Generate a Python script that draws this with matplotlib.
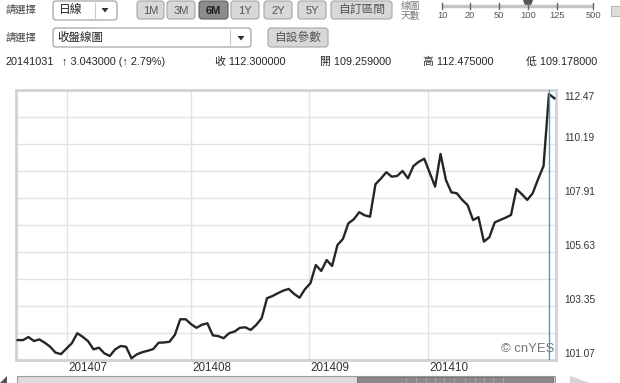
import numpy as np
import matplotlib.pyplot as plt
from matplotlib.patches import FancyBboxPatch, Rectangle, Polygon

plt.rcParams['font.family'] = ['Liberation Sans', 'Noto Sans CJK TC', 'DejaVu Sans']

# daily closing prices (one value per trading day, mid June -> start of Nov 2014)
close = [101.91, 101.91, 102.04, 101.87, 101.94, 101.80, 101.63, 101.38, 101.32, 101.55,
         101.78, 102.20, 102.05, 101.86, 101.52, 101.59, 101.35, 101.24, 101.52, 101.66,
         101.63, 101.14, 101.31, 101.40, 101.46, 101.53, 101.80, 101.81, 101.84, 102.13,
         102.79, 102.79, 102.58, 102.43, 102.56, 102.62, 102.11, 102.08, 101.99, 102.20,
         102.27, 102.43, 102.45, 102.34, 102.55, 102.83, 103.68, 103.77, 103.89, 104.00,
         104.07, 103.86, 103.70, 104.06, 104.31, 105.08, 104.83, 105.29, 105.04, 105.93,
         106.18, 106.84, 107.01, 107.31, 107.18, 107.12, 108.49, 108.73, 109.00, 108.81,
         108.84, 109.05, 108.74, 109.26, 109.44, 109.57, 108.98, 108.39, 109.77, 108.67,
         108.15, 108.11, 107.83, 107.61, 106.98, 107.10, 106.07, 106.25, 106.88, 106.98,
         107.08, 107.19, 108.29, 108.07, 107.83, 108.11, 108.71, 109.26, 112.30, 112.12]

month_labels = ['201407', '201408', '201409', '201410']
month_pos = [9.1, 32.0, 53.8, 75.7]          # index of first trading day of month
y_min, y_max = 101.07, 112.47
y_labels = [101.07, 103.35, 105.63, 107.91, 110.19, 112.47]
cursor_idx = 98                               # 20141031

quote_date = '20141031'
change, change_pct = 3.043, 2.79
q_close, q_open, q_high, q_low = 112.3, 109.259, 112.475, 109.178

periods = ['1M', '3M', '6M', '1Y', '2Y', '5Y', '自訂區間']
period_x = [(137, 164), (167, 195), (199, 228), (231, 259), (264, 292), (298, 326), (331, 392)]
active_period = '6M'
slider_labels = ['10', '20', '50', '100', '125', '500']
slider_x = [442, 470, 499, 528, 557, 593]

fig = plt.figure(figsize=(6.2, 3.83), dpi=100)

# page / widget layer in pixel coordinates
ui = fig.add_axes([0, 0, 1, 1], zorder=0)
ui.set_xlim(0, 620)
ui.set_ylim(383, 0)
ui.axis('off')

def box(x0, y0, x1, y1, fc, ec, r=3, lw=0.8):
    ui.add_patch(FancyBboxPatch((x0, y0), x1 - x0, y1 - y0,
                                boxstyle='round,pad=0,rounding_size=%d' % r,
                                fc=fc, ec=ec, lw=lw))

def arrow_down(x, y):
    ui.add_patch(Polygon([(x - 3.5, y - 2), (x + 3.5, y - 2), (x, y + 2.5)], fc='#333333', ec='none'))

# row 1
ui.text(6, 10, '請選擇', fontsize=7.4, color='#444444', va='center')
box(53, 1, 117, 20, 'white', '#9a9a9a')
ui.plot([95, 95], [3, 18], color='#c8c8c8', lw=0.8)
ui.text(59, 10, '日線', fontsize=8.5, color='#222222', va='center')
arrow_down(105, 10)

for lab, (x0, x1) in zip(periods, period_x):
    if lab == active_period:
        box(x0, 1, x1, 19, '#8c8c8c', '#5e5e5e')
        ui.text((x0 + x1) / 2, 10.5, lab, fontsize=8, color='#1e1e1e', ha='center', va='center', weight='bold')
    else:
        box(x0, 1, x1, 19, '#d8d8d8', '#a6a6a6')
        fs = 8.5 if len(lab) > 2 else 8
        ui.text((x0 + x1) / 2, 10.5, lab, fontsize=fs, color='#555555', ha='center', va='center')

ui.text(401, 5.5, '線圖', fontsize=7, color='#7a7a7a', va='center')
ui.text(401, 15.5, '天數', fontsize=7, color='#7a7a7a', va='center')
ui.plot([slider_x[0], slider_x[-1]], [6, 6], color='#c4c4c4', lw=2.5, solid_capstyle='butt')
for lab, sx in zip(slider_labels, slider_x):
    ui.plot([sx, sx], [2.5, 9], color='#666666', lw=1)
    ui.text(sx, 15.5, lab, fontsize=6.7, color='#555555', ha='center', va='center')
hx = slider_x[slider_labels.index('100')]
ui.add_patch(Polygon([(hx - 5, 0), (hx + 5, 0), (hx + 2.5, 7), (hx - 2.5, 7)], fc='#555555', ec='none'))
ui.add_patch(Rectangle((611, 6), 9, 10, fc='#dddddd', ec='#aaaaaa', lw=0.6))

# row 2
ui.text(6, 38, '請選擇', fontsize=7.4, color='#444444', va='center')
box(53, 28, 251, 47, 'white', '#9a9a9a')
ui.plot([230, 230], [30, 45], color='#c8c8c8', lw=0.8)
ui.text(57, 37.5, '收盤線圖', fontsize=8.3, color='#222222', va='center')
arrow_down(241, 38)
box(268, 28, 328, 47, '#d8d8d8', '#a6a6a6')
ui.text(298, 38, '自設參數', fontsize=8.5, color='#555555', ha='center', va='center')

# row 3: quote line
qc = '#262626'
ui.text(6, 62, quote_date, fontsize=7.8, color=qc, va='center')
ui.text(62, 62, '↑ %.6f (↑ %.2f%%)' % (change, change_pct), fontsize=7.8, color=qc, va='center')
ui.text(215, 62, '收 %.6f' % q_close, fontsize=7.8, color=qc, va='center')
ui.text(320, 62, '開 %.6f' % q_open, fontsize=7.8, color=qc, va='center')
ui.text(423, 62, '高 %.6f' % q_high, fontsize=7.8, color=qc, va='center')
ui.text(526, 62, '低 %.6f' % q_low, fontsize=7.8, color=qc, va='center')

# scrollbar under the chart
ui.add_patch(Rectangle((17, 376), 538, 9, fc='#dcdcdc', ec='#9c9c9c', lw=0.8))
ui.add_patch(Rectangle((357, 377), 196, 8, fc='#8a8a8a', ec='#6a6a6a', lw=0.6))
for gx in [406, 416, 426, 435, 444, 454, 465, 475, 484, 493, 503]:
    ui.plot([gx, gx], [378, 383], color='#a8a8a8', lw=0.6)
ui.add_patch(Polygon([(570, 376), (570, 383), (590, 383)], fc='#d4d4d4', ec='none'))
ui.add_patch(Polygon([(0, 383), (7, 376), (7, 383)], fc='#555555', ec='none'))

# chart
ax = fig.add_axes([16 / 620, 1 - 360 / 383, 540 / 620, 270 / 383], zorder=2)
ax.plot(range(len(close)), close, color='#262626', lw=1.7, zorder=3)
ax.axvline(cursor_idx, color='#3d9fd9', lw=1.0, zorder=4)
ax.set_xlim(-0.3, 99.3)
ax.set_ylim(y_min, y_max)
ax.set_yticks(np.linspace(y_min, y_max, 11))
ax.set_xticks(month_pos)
ax.grid(color='#e2e2e2', lw=1)
ax.tick_params(length=0, labelleft=False, labelbottom=False)
for s in ax.spines.values():
    s.set_color('#d2d2d2')
    s.set_linewidth(2)

for lab, p in zip(month_labels, month_pos):
    ax.annotate(lab, xy=(p, 0), xycoords=('data', 'axes fraction'), xytext=(1, -8),
                textcoords='offset pixels', ha='left', va='center', fontsize=8.4,
                color='#333333', annotation_clip=False)
for v in y_labels:
    dy = -7 if v == y_max else 6
    ax.annotate('%.2f' % v, xy=(1, v), xycoords=('axes fraction', 'data'), xytext=(8, dy),
                textcoords='offset pixels', ha='left', va='center', fontsize=7.3,
                color='#333333', annotation_clip=False)

ax.text(0.996, 0.041, '© cnYES', transform=ax.transAxes, ha='right', va='center',
        fontsize=9.4, color='#777777', zorder=5)

fig.savefig('out.png', dpi=100)
